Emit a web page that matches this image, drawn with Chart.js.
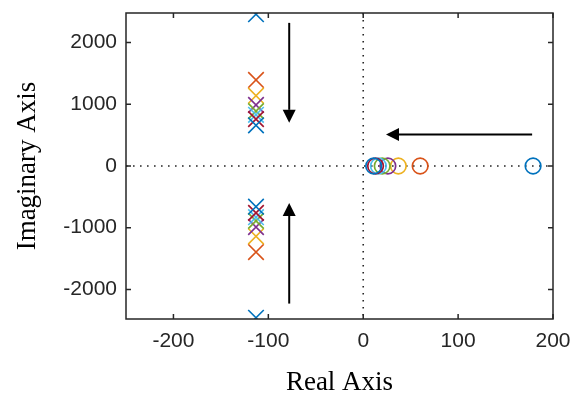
<!DOCTYPE html>
<html>
<head>
<meta charset="utf-8">
<script src="https://cdn.jsdelivr.net/npm/chart.js@4/dist/chart.umd.min.js"></script>
<style>
  html, body { margin: 0; padding: 0; background: #fff; }
  #wrap { width: 575px; height: 400px; }
</style>
</head>
<body>
<div id="wrap"><canvas id="c" width="575" height="400"></canvas></div>
<script>
// Pole-zero map: every case contributes a complex pole pair (x) and one real zero (o)
const cases = ['1', '2', '3', '4', '5', '6', '7', '8'];
const poleReal = [-113, -113, -113, -113, -113, -113, -113, -113];
const poleImag = [2460, 1395, 1140, 990, 890, 830, 760, 660];
const zeroReal = [179, 60, 37, 26, 20, 16, 13, 11];
const xTicks = [-200, -100, 0, 100, 200];
const yTicks = [-2000, -1000, 0, 1000, 2000];
const xRange = [-250, 200];
const yRange = [-2480, 2480];
// Trend arrows in axis units: tail point, head point
const arrowTails = [[-78, 2320], [-78, -2230], [178, 509]];
const arrowHeads = [[-78, 700], [-78, -600], [24, 509]];

const palette = ['#0072BD', '#D95319', '#EDB120', '#7E2F8E', '#77AC30', '#4DBEEE', '#A2142F'];
const ink = '#262626';

const datasets = [];
cases.forEach((name, i) => {
  const color = palette[i % palette.length];
  datasets.push({
    label: 'poles ' + name,
    data: [{ x: poleReal[i], y: poleImag[i] }, { x: poleReal[i], y: -poleImag[i] }],
    pointStyle: 'crossRot',
    pointRadius: 11,
    pointBorderWidth: 1.6,
    borderColor: color,
    backgroundColor: color,
    showLine: false,
    order: 100 - i
  });
  datasets.push({
    label: 'zero ' + name,
    data: [{ x: zeroReal[i], y: 0 }],
    pointStyle: 'circle',
    pointRadius: 7.8,
    pointBorderWidth: 1.7,
    borderColor: color,
    backgroundColor: 'rgba(0,0,0,0)',
    showLine: false,
    order: 50 - i
  });
});

// Dotted zero lines underneath, boxed frame with inward ticks and arrows on top
const decor = {
  id: 'decor',
  beforeDatasetsDraw(chart) {
    const { ctx, chartArea: a, scales: { x, y } } = chart;
    ctx.save();
    ctx.strokeStyle = ink;
    ctx.lineWidth = 1.6;
    ctx.setLineDash([1.6, 5.4]);
    const x0 = x.getPixelForValue(0), y0 = y.getPixelForValue(0);
    ctx.beginPath();
    ctx.moveTo(x0, a.top); ctx.lineTo(x0, a.bottom);
    ctx.moveTo(a.left, y0); ctx.lineTo(a.right, y0);
    ctx.stroke();
    ctx.restore();
  },
  afterDatasetsDraw(chart) {
    const { ctx, chartArea: a, scales: { x, y } } = chart;
    ctx.save();
    ctx.strokeStyle = ink;
    ctx.lineWidth = 1.5;
    ctx.strokeRect(a.left, a.top, a.right - a.left, a.bottom - a.top);
    const tl = 5;
    ctx.beginPath();
    xTicks.forEach(v => {
      const px = x.getPixelForValue(v);
      ctx.moveTo(px, a.bottom); ctx.lineTo(px, a.bottom - tl);
      ctx.moveTo(px, a.top); ctx.lineTo(px, a.top + tl);
    });
    yTicks.forEach(v => {
      const py = y.getPixelForValue(v);
      ctx.moveTo(a.left, py); ctx.lineTo(a.left + tl, py);
      ctx.moveTo(a.right, py); ctx.lineTo(a.right - tl, py);
    });
    ctx.stroke();

    // arrows
    ctx.strokeStyle = '#000';
    ctx.fillStyle = '#000';
    ctx.lineWidth = 2;
    const headLen = 13, headHalf = 6.5;
    arrowTails.forEach((t, i) => {
      const h = arrowHeads[i];
      const tx = x.getPixelForValue(t[0]), ty = y.getPixelForValue(t[1]);
      const hx = x.getPixelForValue(h[0]), hy = y.getPixelForValue(h[1]);
      const len = Math.hypot(hx - tx, hy - ty);
      const ux = (hx - tx) / len, uy = (hy - ty) / len;
      const bx = hx - ux * headLen, by = hy - uy * headLen;
      ctx.beginPath();
      ctx.moveTo(tx, ty); ctx.lineTo(bx, by);
      ctx.stroke();
      ctx.beginPath();
      ctx.moveTo(hx, hy);
      ctx.lineTo(bx - uy * headHalf, by + ux * headHalf);
      ctx.lineTo(bx + uy * headHalf, by - ux * headHalf);
      ctx.closePath();
      ctx.fill();
    });
    ctx.restore();
  }
};

new Chart(document.getElementById('c'), {
  type: 'scatter',
  data: { datasets },
  options: {
    responsive: false,
    animation: false,
    layout: { padding: { top: 13, right: 22, bottom: 0, left: 0 } },
    plugins: { legend: { display: false }, tooltip: { enabled: false } },
    scales: {
      x: {
        type: 'linear',
        min: xRange[0],
        max: xRange[1],
        afterBuildTicks: s => { s.ticks = xTicks.map(v => ({ value: v })); },
        afterFit: s => { s.height = 81; s.paddingLeft = 0; s.paddingRight = 0; },
        grid: { display: false, drawTicks: false },
        border: { display: false },
        ticks: {
          color: ink,
          padding: 10,
          maxRotation: 0,
          autoSkip: false,
          callback: v => String(v),
          font: { family: 'Liberation Sans', size: 21 }
        },
        title: {
          display: true,
          text: 'Real Axis',
          color: '#000',
          font: { family: 'Liberation Serif', size: 27 },
          padding: { top: 0, bottom: 1 }
        }
      },
      y: {
        type: 'linear',
        min: yRange[0],
        max: yRange[1],
        afterBuildTicks: s => { s.ticks = yTicks.map(v => ({ value: v })); },
        afterFit: s => { s.width = 126; s.paddingTop = 0; s.paddingBottom = 0; },
        grid: { display: false, drawTicks: false },
        border: { display: false },
        ticks: {
          color: ink,
          padding: 9,
          autoSkip: false,
          callback: v => String(v),
          font: { family: 'Liberation Sans', size: 21 }
        },
        title: {
          display: true,
          text: 'Imaginary Axis',
          color: '#000',
          font: { family: 'Liberation Serif', size: 27 },
          padding: { top: 12, bottom: 0 }
        }
      }
    }
  },
  plugins: [decor]
});
</script>
</body>
</html>
